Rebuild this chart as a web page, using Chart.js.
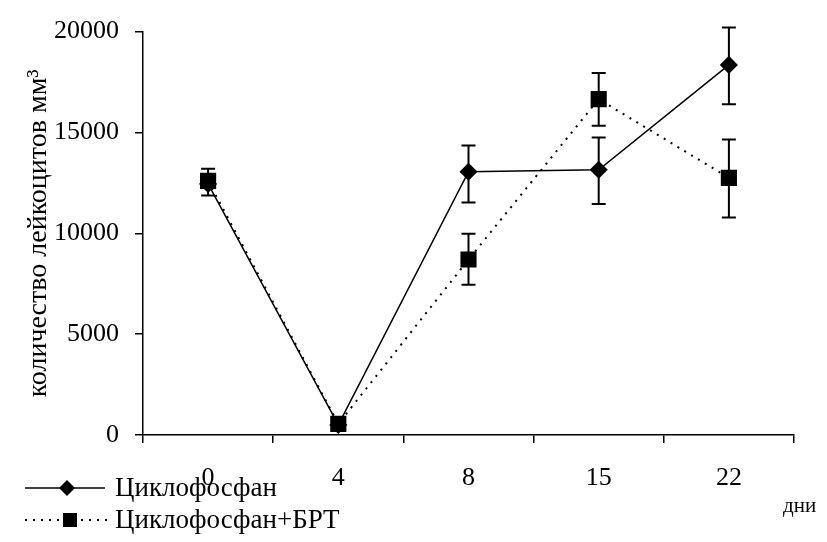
<!DOCTYPE html>
<html>
<head>
<meta charset="utf-8">
<script src="https://cdn.jsdelivr.net/npm/chart.js@4/dist/chart.umd.min.js"></script>
<style>
  html, body { margin: 0; padding: 0; background: #fff; }
  #wrap { width: 827px; height: 542px; }
</style>
</head>
<body>
<div id="wrap"><canvas id="myChart"></canvas></div>
<script>
// days of observation
const days = ["0", "4", "8", "15", "22"];

// Циклофосфан (diamonds, solid line)
const cyclo = [12450, 500, 13050, 13150, 18350];
const cycloLow = [null, null, 11530, 11450, 16400];
const cycloHigh = [null, null, 14350, 14750, 20200];

// Циклофосфан+БРТ (squares, dotted line)
const cycloBrt = [12600, 550, 8700, 16650, 12750];
const brtLow = [11870, null, 7450, 15330, 10780];
const brtHigh = [13200, null, 9980, 17950, 14650];

const yTicks = [0, 5000, 10000, 15000, 20000];

const serif = "'Liberation Serif', 'DejaVu Serif', serif";

// error bars + legend + "дни" label
const extras = {
  id: "extras",
  afterDatasetsDraw(chart) {
    const ctx = chart.ctx;
    const x = chart.scales.x;
    const y = chart.scales.y;
    const bars = [[cycloLow, cycloHigh], [brtLow, brtHigh]];
    ctx.save();
    ctx.strokeStyle = "#000";
    ctx.lineWidth = 2;
    bars.forEach(([lo, hi]) => {
      days.forEach((d, i) => {
        if (lo[i] == null) return;
        const px = x.getPixelForValue(i);
        const y1 = y.getPixelForValue(lo[i]);
        const y2 = y.getPixelForValue(hi[i]);
        ctx.beginPath();
        ctx.moveTo(px, y1); ctx.lineTo(px, y2);
        ctx.moveTo(px - 7, y1); ctx.lineTo(px + 7, y1);
        ctx.moveTo(px - 7, y2); ctx.lineTo(px + 7, y2);
        ctx.stroke();
      });
    });
    ctx.restore();
  },
  afterDraw(chart) {
    const ctx = chart.ctx;
    ctx.save();
    ctx.fillStyle = "#000";
    ctx.strokeStyle = "#000";
    ctx.font = "27px " + serif;
    ctx.textBaseline = "middle";

    // row 1: solid + diamond
    ctx.lineWidth = 1.5;
    ctx.beginPath(); ctx.moveTo(25, 488); ctx.lineTo(105, 488); ctx.stroke();
    ctx.beginPath();
    ctx.moveTo(67, 480); ctx.lineTo(75, 488); ctx.lineTo(67, 496); ctx.lineTo(59, 488);
    ctx.closePath(); ctx.fill();
    ctx.fillText("Циклофосфан", 115, 489);

    // row 2: dotted + square
    ctx.lineWidth = 2;
    ctx.setLineDash([2, 6]);
    ctx.beginPath(); ctx.moveTo(25, 520); ctx.lineTo(108, 520); ctx.stroke();
    ctx.setLineDash([]);
    ctx.fillRect(63, 513, 14, 14);
    ctx.fillText("Циклофосфан+БРТ", 115, 521);

    ctx.font = "21px " + serif;
    ctx.fillText("дни", 783, 506);
    ctx.restore();
  }
};

new Chart(document.getElementById("myChart").getContext("2d"), {
  type: "line",
  data: {
    labels: days,
    datasets: [
      {
        label: "Циклофосфан+БРТ",
        data: cycloBrt,
        order: 0,
        borderColor: "#000",
        borderWidth: 2,
        borderDash: [2, 6],
        pointStyle: "rect",
        pointRadius: 10,
        pointBackgroundColor: "#000",
        pointBorderColor: "#000",
        tension: 0,
      },
      {
        label: "Циклофосфан",
        data: cyclo,
        order: 1,
        borderColor: "#000",
        borderWidth: 1.5,
        pointStyle: "rectRot",
        pointRadius: 8,
        pointBackgroundColor: "#000",
        pointBorderColor: "#000",
        tension: 0,
      },
    ],
  },
  options: {
    responsive: true,
    maintainAspectRatio: false,
    animation: false,
    layout: { padding: { top: 24, right: 33, left: 0, bottom: 0 } },
    plugins: {
      legend: { display: false },
      tooltip: { enabled: false },
    },
    scales: {
      x: {
        offset: true,
        afterFit(scale) { scale.height = 107; },
        grid: { offset: true, drawOnChartArea: false, tickLength: 8, color: "#000", lineWidth: 1.5 },
        border: { color: "#000", width: 1.5 },
        ticks: { color: "#000", padding: 20, font: { family: serif, size: 26 } },
      },
      y: {
        min: 0,
        max: 20000,
        afterFit(scale) { scale.width = 143; },
        afterBuildTicks(scale) { scale.ticks = yTicks.map(v => ({ value: v })); },
        grid: { drawOnChartArea: false, tickLength: 8, color: "#000", lineWidth: 1.5 },
        border: { color: "#000", width: 1.5 },
        ticks: {
          color: "#000",
          padding: 16,
          font: { family: serif, size: 26 },
          callback: (v) => String(v),
        },
        title: {
          display: true,
          text: "количество лейкоцитов мм³",
          color: "#000",
          padding: { top: 22, bottom: 0 },
          font: { family: serif, size: 28 },
        },
      },
    },
  },
  plugins: [extras],
});
</script>
</body>
</html>
